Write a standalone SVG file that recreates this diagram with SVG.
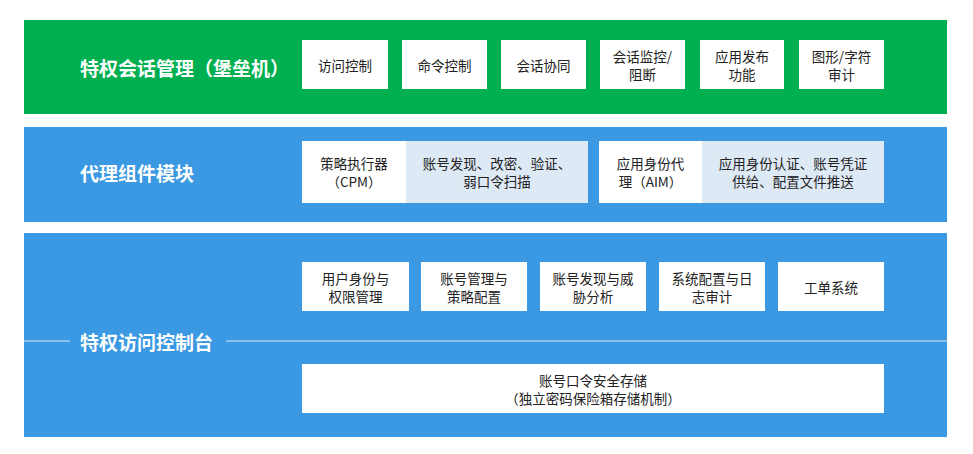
<svg xmlns="http://www.w3.org/2000/svg" width="973" height="454" viewBox="0 0 973 454">
<style>
text{font-family:"Microsoft YaHei","Noto Sans CJK SC","Noto Sans",sans-serif;dominant-baseline:central;text-anchor:middle}
.title{font-size:19px;font-weight:bold;fill:#fff;text-anchor:start}
.t{font-size:13.5px;fill:#222}
.box{fill:#fff}
.lbox{fill:#DEE9F6}
.green{fill:#00AF50}
.blue{fill:#3A99E2}
.sep{stroke:#D6E8F8;stroke-width:1.2;fill:none}
</style>
<rect width="973" height="454" fill="#fff"/>
<g id="layer-session">
<rect class="green" x="24" y="20" width="923" height="94"/>
<text class="title" x="80" y="67">特权会话管理（堡垒机）</text>
</g>
<g id="n-access"><rect class="box" x="302" y="40" width="86" height="49"/><text class="t" x="345" y="65">访问控制</text></g>
<g id="n-command"><rect class="box" x="402" y="40" width="85" height="49"/><text class="t" x="444.5" y="65">命令控制</text></g>
<g id="n-collab"><rect class="box" x="501" y="40" width="85" height="49"/><text class="t" x="543.5" y="65">会话协同</text></g>
<g id="n-monitor"><rect class="box" x="600" y="40" width="85" height="49"/><text class="t" x="642.5" y="56">会话监控/</text><text class="t" x="642.5" y="74">阻断</text></g>
<g id="n-publish"><rect class="box" x="700" y="40" width="84" height="49"/><text class="t" x="742" y="56">应用发布</text><text class="t" x="742" y="74">功能</text></g>
<g id="n-audit"><rect class="box" x="799" y="40" width="85" height="49"/><text class="t" x="841.5" y="56">图形/字符</text><text class="t" x="841.5" y="74">审计</text></g>

<g id="layer-agent">
<rect class="blue" x="24" y="127" width="923" height="95"/>
<text class="title" x="80" y="172">代理组件模块</text>
</g>
<g id="n-cpm"><rect class="box" x="302" y="141" width="104" height="62"/><text class="t" x="354" y="163">策略执行器</text><text class="t" x="354" y="181">（CPM）</text></g>
<g id="n-cpm-desc"><rect class="lbox" x="406" y="141" width="182" height="62"/><text class="t" x="497" y="163">账号发现、改密、验证、</text><text class="t" x="497" y="181">弱口令扫描</text></g>
<g id="n-aim"><rect class="box" x="599" y="141" width="103" height="62"/><text class="t" x="650.5" y="163">应用身份代</text><text class="t" x="650.5" y="181">理（AIM）</text></g>
<g id="n-aim-desc"><rect class="lbox" x="702" y="141" width="182" height="62"/><text class="t" x="793" y="163">应用身份认证、账号凭证</text><text class="t" x="793" y="181">供给、配置文件推送</text></g>

<g id="layer-console">
<rect class="blue" x="24" y="233" width="923" height="204"/>
<text class="title" x="80" y="341">特权访问控制台</text>
</g>
<g id="connectors">
<line class="sep" x1="24" y1="341" x2="70" y2="341"/>
<line class="sep" x1="226" y1="341" x2="947" y2="341"/>
</g>
<g id="n-user"><rect class="box" x="302" y="262" width="107" height="49"/><text class="t" x="355.5" y="277.5">用户身份与</text><text class="t" x="355.5" y="295.5">权限管理</text></g>
<g id="n-account"><rect class="box" x="421" y="262" width="106" height="49"/><text class="t" x="474" y="277.5">账号管理与</text><text class="t" x="474" y="295.5">策略配置</text></g>
<g id="n-threat"><rect class="box" x="540" y="262" width="106" height="49"/><text class="t" x="593" y="277.5">账号发现与威</text><text class="t" x="593" y="295.5">胁分析</text></g>
<g id="n-syslog"><rect class="box" x="659" y="262" width="106" height="49"/><text class="t" x="712" y="277.5">系统配置与日</text><text class="t" x="712" y="295.5">志审计</text></g>
<g id="n-ticket"><rect class="box" x="778" y="262" width="106" height="49"/><text class="t" x="831" y="287">工单系统</text></g>
<g id="n-vault"><rect class="box" x="302" y="364" width="582" height="49"/><text class="t" x="593" y="379.5">账号口令安全存储</text><text class="t" x="593" y="397.5">（独立密码保险箱存储机制）</text></g>
</svg>
